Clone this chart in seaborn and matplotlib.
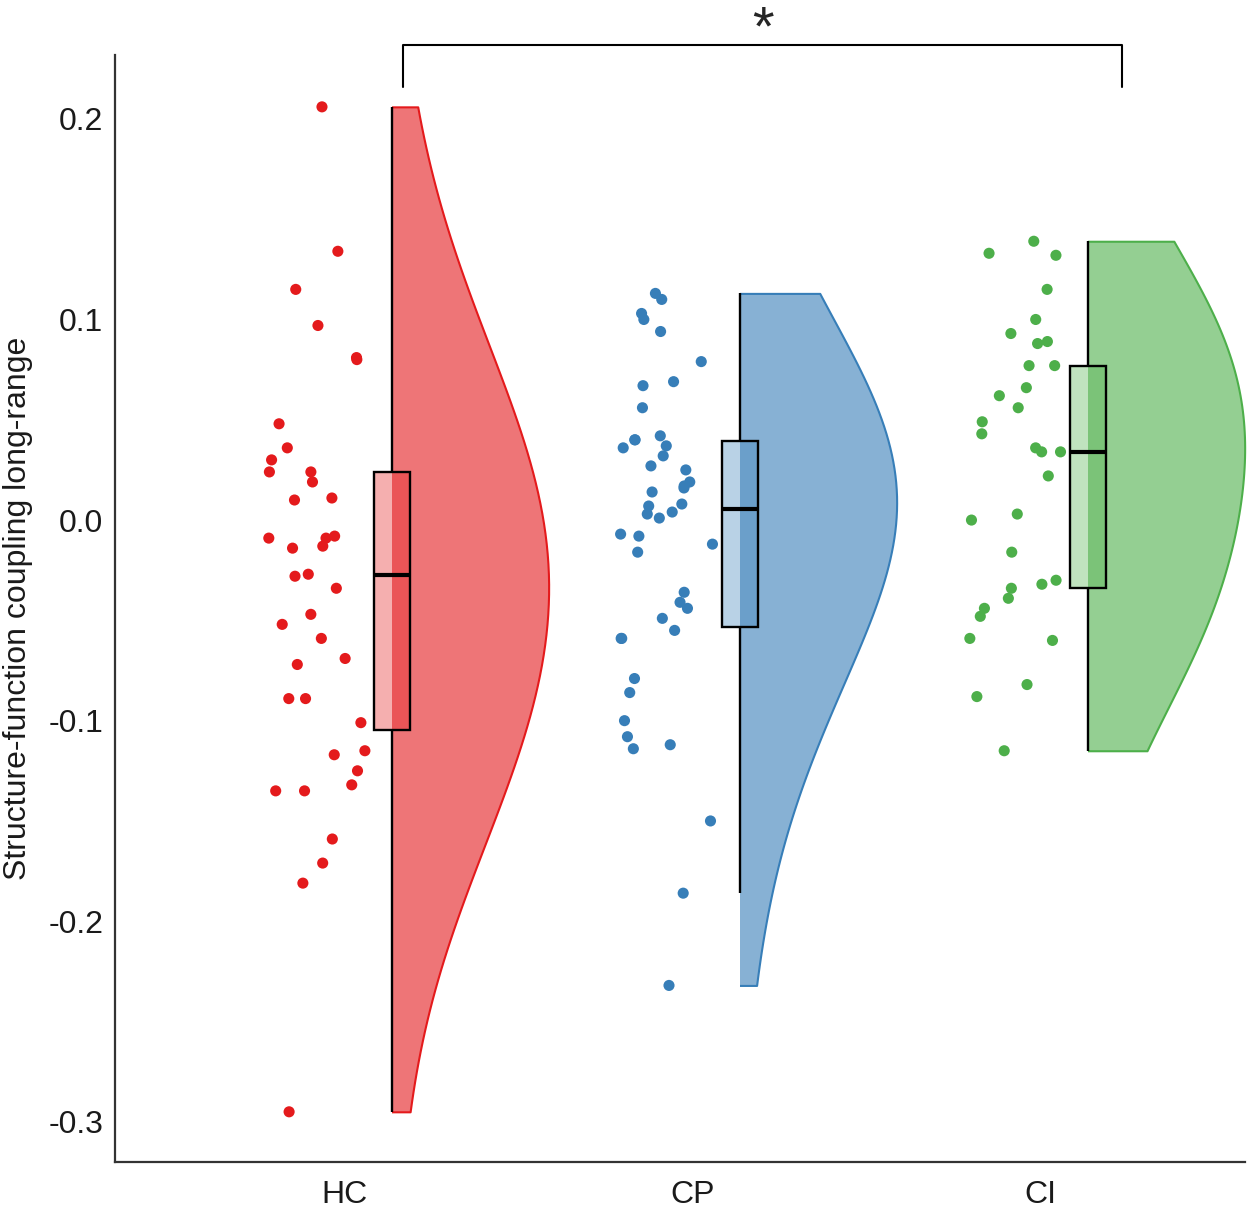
#importing the libraries
import numpy as np
import pandas as pd
import matplotlib.pyplot as plt
import seaborn as sns
from matplotlib.patches import Rectangle
from matplotlib.colors import to_rgba

#values
groups = ['HC', 'CP', 'CI']
colors = ['#E41A1C', '#377EB8', '#4DAF4A']
hc = [0.206, 0.134, 0.115, 0.097, 0.081, 0.080, 0.048, 0.036, 0.030, 0.024,
      0.024, 0.019, 0.011, 0.010, -0.008, -0.009, -0.009, -0.013, -0.014, -0.027,
      -0.028, -0.034, -0.047, -0.052, -0.059, -0.069, -0.072, -0.089, -0.089, -0.101,
      -0.115, -0.117, -0.125, -0.132, -0.135, -0.135, -0.159, -0.171, -0.181, -0.295]
cp = [0.113, 0.110, 0.103, 0.100, 0.094, 0.079, 0.069, 0.067, 0.056, 0.042,
      0.040, 0.040, 0.037, 0.036, 0.032, 0.027, 0.025, 0.019, 0.017, 0.016,
      0.014, 0.008, 0.007, 0.004, 0.003, 0.001, -0.007, -0.008, -0.012, -0.016,
      -0.036, -0.041, -0.044, -0.049, -0.055, -0.059, -0.059, -0.079, -0.086, -0.100,
      -0.108, -0.112, -0.114, -0.150, -0.186, -0.232]
ci = [0.139, 0.133, 0.132, 0.115, 0.100, 0.093, 0.089, 0.088, 0.077, 0.077,
      0.066, 0.062, 0.056, 0.049, 0.043, 0.036, 0.034, 0.034, 0.022, 0.003,
      0.000, -0.016, -0.030, -0.032, -0.034, -0.039, -0.044, -0.048, -0.059, -0.060,
      -0.082, -0.088, -0.115]
y_ticks = [-0.3, -0.2, -0.1, 0.0, 0.1, 0.2]
y_ticklabels = ['-0.3', '-0.2', '-0.1', '0.0', '0.1', '0.2']

df = pd.DataFrame({'group': ['HC'] * len(hc) + ['CP'] * len(cp) + ['CI'] * len(ci),
                   'value': hc + cp + ci})
df['pos'] = df['group'].map({g: i for i, g in enumerate(groups)})
palette = dict(zip(groups, colors))

sns.set_style('white')
plt.rcParams['font.family'] = ['Liberation Sans', 'DejaVu Sans']

fig = plt.figure(figsize=(12.5, 12.11), dpi=100)
ax = fig.add_axes([0.092, 0.0405, 0.904, 0.914])

# half violins (nudged right of the category)
nudge = 0.136
sns.violinplot(x=df['pos'] + nudge, y=df['value'], hue=df['group'], palette=palette,
               native_scale=True, cut=0, density_norm='width', width=0.9, inner=None,
               bw_method=0.85, linewidth=1.5, saturation=1, legend=False, ax=ax)
for coll in list(ax.collections):
    verts = coll.get_paths()[0].vertices
    i = int(round(verts[:, 0].mean() - nudge))
    xc = i + nudge
    coll.set_facecolor(to_rgba(colors[i], 0.6))
    coll.set_edgecolor(colors[i])
    rect = Rectangle((xc, -1), 1, 2, transform=ax.transData)
    coll.set_clip_path(rect)

# boxplots
sns.boxplot(x=df['pos'] + nudge, y=df['value'], hue=df['group'], palette=palette,
            native_scale=True, width=0.104, showfliers=False, showcaps=False,
            linecolor='black', linewidth=1.7, saturation=1,
            medianprops={'linewidth': 3}, legend=False, ax=ax)
for p in ax.patches:
    fc = p.get_facecolor()
    p.set_facecolor((fc[0], fc[1], fc[2], 0.35))

# jittered points
np.random.seed(3)
sns.stripplot(x=df['pos'] - 0.08, y=df['value'], hue=df['group'], palette=palette,
              native_scale=True, jitter=0.145, size=8, linewidth=0, legend=False, ax=ax)

ax.set_xticks([0, 1, 2])
ax.set_xticklabels(groups)
ax.set_yticks(y_ticks)
ax.set_yticklabels(y_ticklabels)
ax.set_xlim(-0.660, 2.587)
ax.set_ylim(-0.32, 0.2318)
ax.set_xlabel('')
ax.set_ylabel('Structure-function coupling long-range', fontsize=23, color='#1a1a1a')
ax.yaxis.set_label_coords(-0.073, 0.5)
sns.despine(ax=ax)
for s in ['left', 'bottom']:
    ax.spines[s].set_color('#333333')
    ax.spines[s].set_linewidth(1.6)
ax.tick_params(length=5, width=1.3, color='#333333', labelsize=23, labelcolor='#1a1a1a')
ax.tick_params(axis='x', pad=8)

# significance bracket
ax.plot([0.168, 0.168, 2.234, 2.234], [0.2158, 0.2368, 0.2368, 0.2158],
        color='black', lw=1.5, clip_on=False)
ax.text(1.201, 0.2443, '*', ha='center', va='center', fontsize=40, clip_on=False)

fig.savefig('out.png', dpi=100)
